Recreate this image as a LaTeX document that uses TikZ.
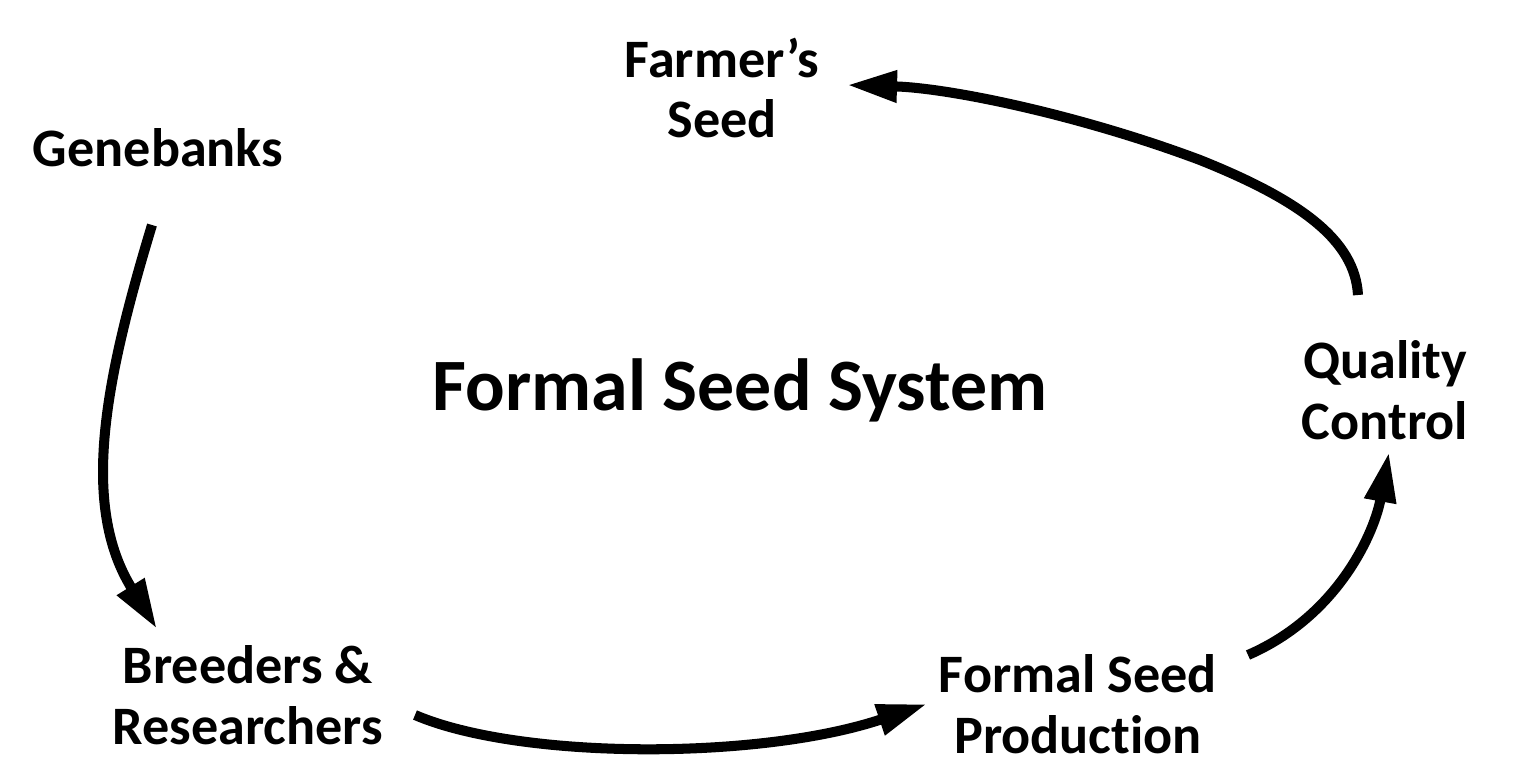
\documentclass[tikz,border=0pt]{standalone}
\usepackage{fontspec}
\setmainfont{Carlito}[Ligatures=NoCommon]
\usetikzlibrary{arrows.meta}
\begin{document}
\begin{tikzpicture}[x=0.01cm,y=-0.01cm,
  lbl/.style={font=\bfseries\fontsize{15.4}{17.2}\selectfont,align=center,inner sep=0pt},
  title/.style={font=\bfseries\fontsize{21}{24}\selectfont,inner sep=0pt},
  flow/.style={line width=2.85pt,-{Triangle[length=0.5cm,width=0.3cm]}}]
\useasboundingbox (0,0) rectangle (1520,763);
\node[lbl] (farmer) at (722,88) {Farmer’s\\Seed};
\node[lbl] (gene) at (158,148) {Genebanks};
\node[title] (fss) at (740,390) {Formal Seed System};
\node[lbl] (qc) at (1385,390) {Quality\\Control};
\node[lbl] (breed) at (248,695) {Breeders \&\\Researchers};
\node[lbl] (prod) at (1078,704) {Formal Seed\\Production};
\coordinate (a1) at (152,225);
\coordinate (b1) at (157,629);
\coordinate (a2) at (415,715);
\coordinate (b2) at (927,704);
\coordinate (a3) at (1248,655);
\coordinate (b3) at (1389,452);
\coordinate (a4) at (1358,295);
\coordinate (m4) at (1200,160);
\coordinate (b4) at (847,85);
\draw[flow] (a1) .. controls (105,380) and (80,505) .. (b1);
\draw[flow] (a2) .. controls (520,760) and (760,760) .. (b2);
\draw[flow] (a3) .. controls (1340,615) and (1375,530) .. (b3);
\draw[flow] (a4) .. controls (1355,240) and (1300,200) .. (m4) .. controls (1080,115) and (950,88) .. (b4);
\end{tikzpicture}
\end{document}
